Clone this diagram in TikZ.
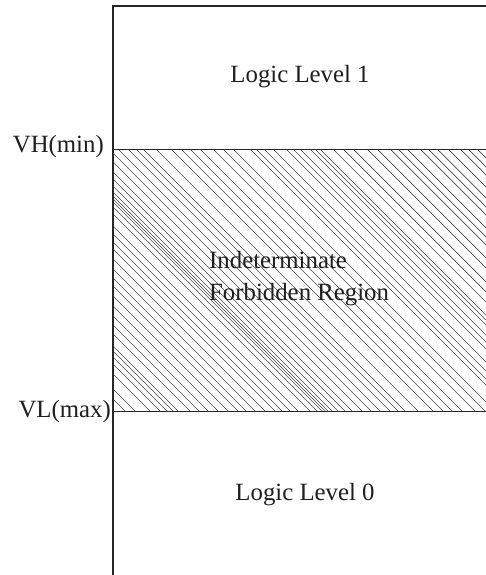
\documentclass[tikz,border=0pt]{standalone}
\usepackage{fontspec}
\setmainfont{Liberation Serif}
\begin{document}
\begin{tikzpicture}[x=1pt,y=-1pt,
  axisline/.style={draw=black!85, line width=1.2pt},
  hatchline/.style={draw=black!72, line width=0.7pt},
  lbl/.style={text=black!88, font=\fontsize{24.8}{29}\selectfont, inner sep=0pt}]
\useasboundingbox (0,0) rectangle (486,575);
% hatching
\begin{scope}
\clip (113,149) rectangle (486,411);
\foreach \x in {-148,-137,-127,-112,-102,-95,-89,-84,-72,-63,-54,-44,-34,-24,-16,-7,3,13,20,28,36,48,55,60,63,66,70,76,83,90,100,
  109,118,128,136,143,156,171,181,190,200,213,223,233,250,256,264,273,286,293,300,310,315,320,333,343,353,367,377,390,398,407,420,428,437,448,460,468,477}
  \draw[hatchline] (\x,149) -- ++(262,262);
\end{scope}
% frame lines
\coordinate (top0) at (113,6);
\coordinate (top1) at (486,6);
\coordinate (bot) at (113,575);
\coordinate (vh0) at (113,149);
\coordinate (vh1) at (486,149);
\coordinate (vl0) at (113,411);
\coordinate (vl1) at (486,411);
\draw[axisline] (bot) -- (top0) -- (top1);
\draw[axisline, line width=0.9pt] (vh0) -- (vh1);
\draw[axisline, line width=0.9pt] (vl0) -- (vl1);
% labels
\node[lbl, anchor=east] (vh) at (104,147) {VH(min)};
\node[lbl, anchor=east] (vl) at (111,412) {VL(max)};
\node[lbl] (l1) at (300,77) {Logic Level 1};
\node[lbl] (l0) at (305,495) {Logic Level 0};
\node[lbl, anchor=base west] (ind) at (209,268) {Indeterminate};
\node[lbl, anchor=base west] (forb) at (209,300) {Forbidden Region};
\end{tikzpicture}
\end{document}
